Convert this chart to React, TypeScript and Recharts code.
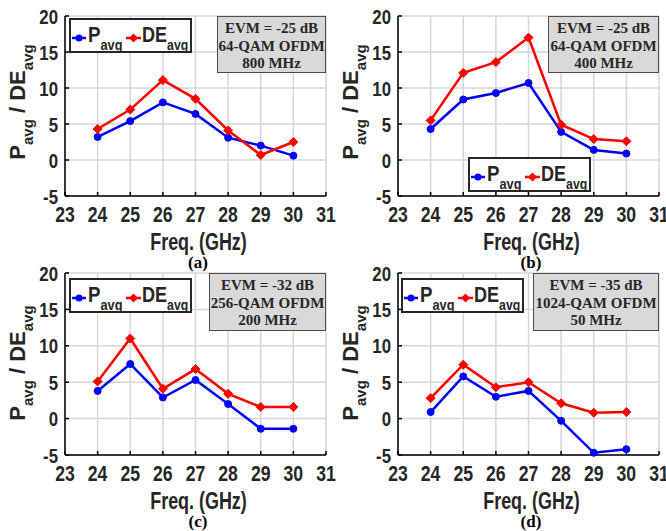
import React from "react";
import { LineChart, Line, XAxis, YAxis, CartesianGrid, Legend } from "recharts";

// frequency sweep (GHz)
const freqs = [24, 25, 26, 27, 28, 29, 30];

// (a) 64-QAM, 800 MHz
const pAvgA = [3.2, 5.4, 8.0, 6.4, 3.1, 2.0, 0.6];
const deAvgA = [4.3, 7.0, 11.1, 8.5, 4.1, 0.7, 2.5];
// (b) 64-QAM, 400 MHz
const pAvgB = [4.3, 8.4, 9.3, 10.7, 3.9, 1.4, 0.9];
const deAvgB = [5.5, 12.1, 13.6, 17.0, 4.9, 2.9, 2.6];
// (c) 256-QAM, 200 MHz
const pAvgC = [3.8, 7.5, 2.9, 5.3, 2.0, -1.4, -1.4];
const deAvgC = [5.1, 11.0, 4.1, 6.8, 3.4, 1.6, 1.6];
// (d) 1024-QAM, 50 MHz
const pAvgD = [0.9, 5.8, 3.0, 3.8, -0.3, -4.7, -4.2];
const deAvgD = [2.8, 7.4, 4.3, 5.0, 2.1, 0.8, 0.9];

const xTicks = [23, 24, 25, 26, 27, 28, 29, 30, 31];
const yTicks = [-5, 0, 5, 10, 15, 20];

const notesA = ["EVM = -25 dB", "64-QAM OFDM", "800 MHz"];
const notesB = ["EVM = -25 dB", "64-QAM OFDM", "400 MHz"];
const notesC = ["EVM = -32 dB", "256-QAM OFDM", "200 MHz"];
const notesD = ["EVM = -35 dB", "1024-QAM OFDM", "50 MHz"];

const captions = ["(a)", "(b)", "(c)", "(d)"];
const xTitle = "Freq. (GHz)";

const BLUE = "#0000ff";
const RED = "#ff0000";
const INK = "#262626";
const SANS = "'Liberation Sans', Arial, sans-serif";
const SERIF = "'Liberation Serif', 'Times New Roman', serif";

function buildRows(p: number[], de: number[]) {
  return freqs.map((f, i) => ({ freq: f, pAvg: p[i], deAvg: de[i] }));
}

const Diamond = (props: any) => {
  const { cx, cy, index } = props;
  if (cx == null || cy == null) return null;
  const s = 4.5;
  return (
    <polygon
      key={`d-${index}`}
      points={`${cx},${cy - s} ${cx + s},${cy} ${cx},${cy + s} ${cx - s},${cy}`}
      fill={RED}
      stroke={RED}
      strokeWidth={1}
    />
  );
};

// narrow bold digits, like the original export
const XTick = ({ x, y, payload }: any) => (
  <text
    transform={`translate(${x},${y + 22}) scale(0.8,1)`}
    textAnchor="middle"
    fontFamily={SANS}
    fontWeight="bold"
    fontSize={22}
    fill={INK}
  >
    {payload.value}
  </text>
);

const YTick = ({ x, y, payload }: any) => (
  <text
    transform={`translate(${x},${y + 7.5}) scale(0.8,1)`}
    textAnchor="end"
    fontFamily={SANS}
    fontWeight="bold"
    fontSize={21}
    fill={INK}
  >
    {payload.value}
  </text>
);

const makeXLabel = (drop: number) => (props: any) => {
  const vb = props.viewBox || { x: 0, y: 0, width: 0 };
  const cx = vb.x + vb.width / 2 + 3;
  const base = vb.y + drop;
  return (
    <text
      transform={`translate(${cx},${base}) scale(0.78,1)`}
      textAnchor="middle"
      fontFamily={SANS}
      fontWeight="bold"
      fontSize={23}
      fill={INK}
    >
      {xTitle}
    </text>
  );
};

const makeYLabel = (shift: number) => (props: any) => {
  const vb = props.viewBox || { y: 0, height: 0 };
  const cx = 25;
  const cy = vb.y + vb.height / 2 + shift;
  return (
    <text
      x={cx}
      y={cy}
      transform={`rotate(-90, ${cx}, ${cy})`}
      textAnchor="middle"
      fontFamily={SANS}
      fontWeight="bold"
      fontSize={22}
      fill={INK}
    >
      P
      <tspan dy={8} fontSize={15}>avg</tspan>
      <tspan dy={-8}>{"\u00a0/\u00a0DE"}</tspan>
      <tspan dy={8} fontSize={15}>avg</tspan>
    </text>
  );
};

const LegendBox = () => (
  <svg width={123} height={35} style={{ display: "block" }}>
    <rect x={1} y={1} width={121} height={33} fill="#fff" stroke={INK} strokeWidth={2} />
    <line x1={3} x2={17} y1={20} y2={20} stroke={BLUE} strokeWidth={2.5} />
    <circle cx={10} cy={20} r={3.5} fill={BLUE} />
    <text transform="translate(19,24) scale(0.85,1)" fontFamily={SANS} fontWeight="bold" fontSize={22} fill={INK}>
      P<tspan dy={8} fontSize={15}>avg</tspan>
    </text>
    <line x1={57} x2={72} y1={20} y2={20} stroke={RED} strokeWidth={2.5} />
    <polygon points="64.5,15.5 69,20 64.5,24.5 60,20" fill={RED} />
    <text transform="translate(73,24) scale(0.82,1)" fontFamily={SANS} fontWeight="bold" fontSize={22} fill={INK}>
      DE<tspan dy={8} fontSize={15}>avg</tspan>
    </text>
  </svg>
);

interface PanelProps {
  left: number;
  top: number;
  height: number;
  plotTop: number;
  plotHeight: number;
  labelDrop: number;
  p: number[];
  de: number[];
  notes: string[];
  noteBox: { left: number; top: number; width: number; height: number };
  legendPos: { left: number; top: number };
  labelShift: number;
}

function Panel(props: PanelProps) {
  const { left, top, height, plotTop, plotHeight, labelDrop, p, de, notes, noteBox, legendPos, labelShift } = props;
  const data = buildRows(p, de);
  const xAxisHeight = height - plotTop - plotHeight;
  return (
    <div style={{ position: "absolute", left, top, width: 333, height }}>
      <LineChart width={333} height={height} data={data} margin={{ top: plotTop, right: 7, bottom: 0, left: 0 }}>
        <CartesianGrid stroke="#d6d6d6" strokeWidth={1.5} />
        <XAxis
          dataKey="freq"
          type="number"
          domain={[23, 31]}
          ticks={xTicks}
          interval={0}
          height={xAxisHeight}
          tickSize={-4}
          tickMargin={8}
          stroke="#000"
          strokeWidth={1.5}
          tick={<XTick />}
          label={makeXLabel(labelDrop)}
        />
        <XAxis
          xAxisId="top"
          orientation="top"
          dataKey="freq"
          type="number"
          domain={[23, 31]}
          ticks={xTicks}
          height={0}
          tickSize={-4}
          stroke="#000"
          strokeWidth={1.5}
          tick={false}
        />
        <YAxis
          type="number"
          domain={[-5, 20]}
          ticks={yTicks}
          interval={0}
          width={65}
          tickSize={-4}
          tickMargin={11}
          stroke="#000"
          strokeWidth={1.5}
          tick={<YTick />}
          label={makeYLabel(labelShift)}
        />
        <YAxis
          yAxisId="right"
          orientation="right"
          type="number"
          domain={[-5, 20]}
          ticks={yTicks}
          width={0}
          tickSize={-4}
          stroke="#000"
          strokeWidth={1.5}
          tick={false}
        />
        <Line
          dataKey="pAvg"
          stroke={BLUE}
          strokeWidth={2.5}
          dot={{ r: 3.5, fill: BLUE, stroke: BLUE, strokeWidth: 1 }}
          isAnimationActive={false}
        />
        <Line
          dataKey="deAvg"
          stroke={RED}
          strokeWidth={2.5}
          dot={Diamond}
          isAnimationActive={false}
        />
        <Legend
          verticalAlign="middle"
          align="center"
          layout="horizontal"
          content={() => <LegendBox />}
          wrapperStyle={{ left: legendPos.left, top: legendPos.top, width: 123, height: 35 }}
        />
      </LineChart>
      <div
        style={{
          position: "absolute",
          left: noteBox.left,
          top: noteBox.top,
          width: noteBox.width,
          height: noteBox.height,
          boxSizing: "border-box",
          background: "#d9d9d9",
          border: "1.5px solid #4d4d4d",
          fontFamily: SERIF,
          fontWeight: "bold",
          fontSize: 15,
          lineHeight: "17.5px",
          color: INK,
          textAlign: "center",
          paddingTop: 3,
        }}
      >
        {notes.map((n) => (
          <div key={n}>{n}</div>
        ))}
      </div>
    </div>
  );
}

const captionStyle = (left: number, top: number): React.CSSProperties => ({
  position: "absolute",
  left,
  top,
  width: 60,
  textAlign: "center",
  fontFamily: SERIF,
  fontWeight: "bold",
  fontSize: 17,
  lineHeight: "17px",
  color: "#000",
});

export default function App() {
  return (
    <div style={{ position: "absolute", left: 0, top: 0, width: 666, height: 531, background: "#fff", overflow: "hidden" }}>
      <style>{".recharts-surface { overflow: visible; }"}</style>
      <Panel
        left={0}
        top={0}
        height={265}
        plotTop={16}
        plotHeight={180}
        labelDrop={54}
        p={pAvgA}
        de={deAvgA}
        notes={notesA}
        noteBox={{ left: 217, top: 16, width: 109, height: 57 }}
        legendPos={{ left: 69, top: 18 }}
        labelShift={-4}
      />
      <Panel
        left={333}
        top={0}
        height={265}
        plotTop={16}
        plotHeight={180}
        labelDrop={54}
        p={pAvgB}
        de={deAvgB}
        notes={notesB}
        noteBox={{ left: 215, top: 16, width: 111, height: 57 }}
        legendPos={{ left: 135, top: 157 }}
        labelShift={-4}
      />
      <Panel
        left={0}
        top={265}
        height={266}
        plotTop={8}
        plotHeight={182}
        labelDrop={54}
        p={pAvgC}
        de={deAvgC}
        notes={notesC}
        noteBox={{ left: 209, top: 8, width: 117, height: 58 }}
        legendPos={{ left: 69, top: 13 }}
        labelShift={-1}
      />
      <Panel
        left={333}
        top={265}
        height={266}
        plotTop={8}
        plotHeight={182}
        labelDrop={54}
        p={pAvgD}
        de={deAvgD}
        notes={notesD}
        noteBox={{ left: 200, top: 8, width: 126, height: 58 }}
        legendPos={{ left: 68, top: 13 }}
        labelShift={-1}
      />
      <div style={captionStyle(168, 254)}>{captions[0]}</div>
      <div style={captionStyle(501, 254)}>{captions[1]}</div>
      <div style={captionStyle(168, 513)}>{captions[2]}</div>
      <div style={captionStyle(501, 513)}>{captions[3]}</div>
    </div>
  );
}
